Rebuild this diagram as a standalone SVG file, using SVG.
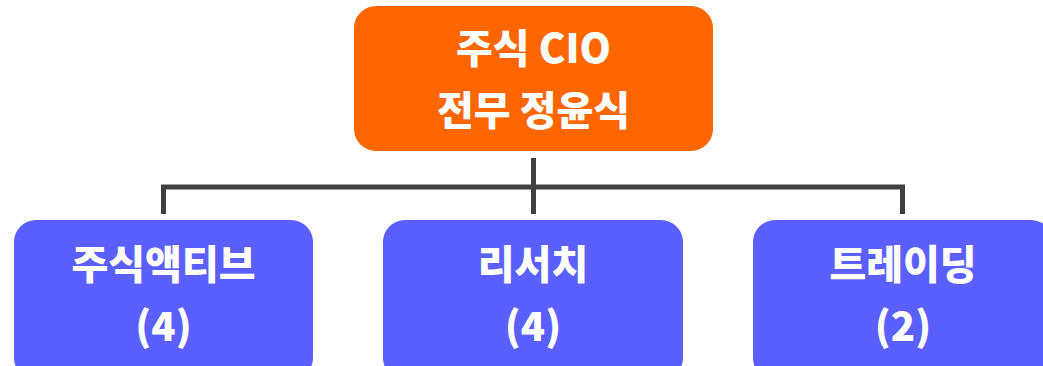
<svg xmlns="http://www.w3.org/2000/svg" width="1043" height="366" viewBox="0 0 1043 366">
<style>
.top{fill:#FF6600}
.sub{fill:#5C5FFF}
.t{fill:#FFFFFF;font-family:"Noto Sans CJK KR","Noto Sans",sans-serif;font-weight:900;font-size:40px;text-anchor:middle;dominant-baseline:central}
.c{fill:none;stroke:#404040;stroke-width:5;stroke-linejoin:miter}
</style>
<rect width="1043" height="366" fill="#FFFFFF"/>
<g id="connectors">
<path class="c" d="M163.5 214 V187 H902.5 V214"/>
<path class="c" d="M533.5 158 V214"/>
</g>
<g id="cio">
<rect class="top" x="354" y="6" width="359" height="145" rx="22"/>
<text class="t" x="533.5" y="45.5">주식 CIO</text>
<text class="t" x="533.5" y="107.5">전무 정윤식</text>
</g>
<g id="active">
<rect class="sub" x="14" y="220" width="299" height="160" rx="22"/>
<text class="t" x="163.5" y="262">주식액티브</text>
<text class="t" x="163.5" y="324">(4)</text>
</g>
<g id="research">
<rect class="sub" x="383" y="220" width="300" height="160" rx="22"/>
<text class="t" x="533" y="262">리서치</text>
<text class="t" x="533" y="324">(4)</text>
</g>
<g id="trading">
<rect class="sub" x="753" y="220" width="300" height="160" rx="22"/>
<text class="t" x="903" y="262">트레이딩</text>
<text class="t" x="903" y="324">(2)</text>
</g>
</svg>
